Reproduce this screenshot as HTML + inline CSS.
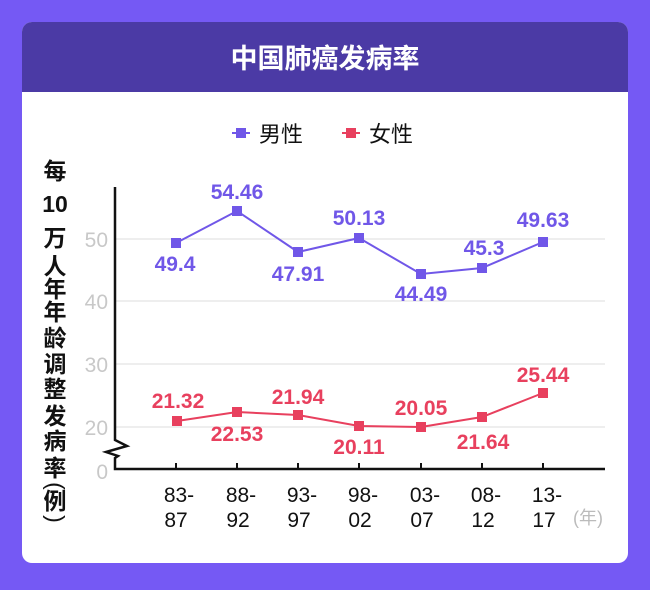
<!DOCTYPE html>
<html><head><meta charset="utf-8"><style>
body{margin:0;width:650px;height:585px;background:#7559f4;overflow:hidden;font-family:"Liberation Sans","Noto Sans CJK SC",sans-serif}
</style></head><body>
<svg width="650" height="585" xmlns="http://www.w3.org/2000/svg" font-family="'Liberation Sans','Noto Sans CJK SC',sans-serif">
<rect x="0" y="0" width="650" height="585" fill="#7559f4"/>
<rect x="22" y="22" width="606" height="541" rx="10" fill="#fff"/>
<path d="M22,92 V32 a10,10 0 0 1 10,-10 H618 a10,10 0 0 1 10,10 V92 Z" fill="#4b3aa5"/>
<text x="325" y="68" text-anchor="middle" font-size="27" font-weight="bold" fill="#fff">中国肺癌发病率</text>
<!-- legend -->
<line x1="232" y1="133" x2="250" y2="133" stroke="#7057e8" stroke-width="2"/><rect x="236" y="128" width="10" height="10" fill="#7057e8"/>
<text x="259" y="142" font-size="22" fill="#111">男性</text>
<line x1="342" y1="133" x2="360" y2="133" stroke="#e8405e" stroke-width="2"/><rect x="346" y="128" width="10" height="10" fill="#e8405e"/>
<text x="369" y="142" font-size="22" fill="#111">女性</text>
<!-- y title -->
<g font-size="23" font-weight="bold" fill="#111" text-anchor="middle">
<text x="55" y="179">每</text>
<text x="55" y="212">10</text>
<text x="55" y="246">万</text>
<text x="55" y="274">人</text>
<text x="55" y="297">年</text>
<text x="55" y="320">年</text>
<text x="55" y="346">龄</text>
<text x="55" y="372">调</text>
<text x="55" y="397">整</text>
<text x="55" y="424">发</text>
<text x="55" y="449">病</text>
<text x="55" y="476">率</text>
<text x="55" y="493" font-weight="normal" transform="rotate(90 55 486)">(</text>
<text x="55" y="509">例</text>
<text x="55" y="526" font-weight="normal" transform="rotate(90 55 519)">)</text>
</g>
<!-- grid -->
<g stroke="#ddd" stroke-width="1">
<line x1="115" y1="239" x2="605" y2="239"/>
<line x1="115" y1="301" x2="605" y2="301"/>
<line x1="115" y1="364" x2="605" y2="364"/>
<line x1="115" y1="427" x2="605" y2="427"/>
</g>
<g font-size="21" fill="#c8c8c8" text-anchor="end">
<text x="108" y="247">50</text><text x="108" y="309">40</text><text x="108" y="372">30</text><text x="108" y="435">20</text><text x="108" y="479">0</text>
</g>
<!-- axes -->
<polyline points="115,187 115,440 127,446 106,452 118,456 115,458 115,469 605,469" fill="none" stroke="#111" stroke-width="2.5"/>
<g stroke="#111" stroke-width="2">
<line x1="176" y1="463" x2="176" y2="469"/><line x1="237" y1="463" x2="237" y2="469"/><line x1="298" y1="463" x2="298" y2="469"/><line x1="359" y1="463" x2="359" y2="469"/><line x1="421" y1="463" x2="421" y2="469"/><line x1="482" y1="463" x2="482" y2="469"/><line x1="543" y1="463" x2="543" y2="469"/>
</g>
<g font-size="21" fill="#111" text-anchor="middle">
<text x="179" y="502">83-</text><text x="176" y="527">87</text>
<text x="241" y="502">88-</text><text x="238" y="527">92</text>
<text x="302" y="502">93-</text><text x="299" y="527">97</text>
<text x="363" y="502">98-</text><text x="360" y="527">02</text>
<text x="425" y="502">03-</text><text x="422" y="527">07</text>
<text x="486" y="502">08-</text><text x="483" y="527">12</text>
<text x="547" y="502">13-</text><text x="544" y="527">17</text>
</g>
<text x="588" y="524" font-size="18" fill="#bbb" text-anchor="middle">(年)</text>
<!-- male -->
<polyline points="176,243 237,211 298,252 359,238 421,274 482,268 543,242" fill="none" stroke="#7057e8" stroke-width="2"/>
<g fill="#7057e8">
<rect x="171" y="238" width="10" height="10"/><rect x="232" y="206" width="10" height="10"/><rect x="293" y="247" width="10" height="10"/><rect x="354" y="233" width="10" height="10"/><rect x="416" y="269" width="10" height="10"/><rect x="477" y="263" width="10" height="10"/><rect x="538" y="237" width="10" height="10"/>
</g>
<g font-size="21" font-weight="bold" fill="#7057e8" text-anchor="middle">
<text x="175" y="271">49.4</text><text x="237" y="199">54.46</text><text x="298" y="281">47.91</text><text x="359" y="225">50.13</text><text x="421" y="301">44.49</text><text x="484" y="255">45.3</text><text x="543" y="227">49.63</text>
</g>
<!-- female -->
<polyline points="177,421 237,412 298,415 359,426 421,427 482,417 543,393" fill="none" stroke="#e8405e" stroke-width="2"/>
<g fill="#e8405e">
<rect x="172" y="416" width="10" height="10"/><rect x="232" y="407" width="10" height="10"/><rect x="293" y="410" width="10" height="10"/><rect x="354" y="421" width="10" height="10"/><rect x="416" y="422" width="10" height="10"/><rect x="477" y="412" width="10" height="10"/><rect x="538" y="388" width="10" height="10"/>
</g>
<g font-size="21" font-weight="bold" fill="#e8405e" text-anchor="middle">
<text x="178" y="408">21.32</text><text x="237" y="441">22.53</text><text x="298" y="404">21.94</text><text x="359" y="454">20.11</text><text x="421" y="415">20.05</text><text x="483" y="449">21.64</text><text x="543" y="382">25.44</text>
</g>
</svg>
</body></html>
